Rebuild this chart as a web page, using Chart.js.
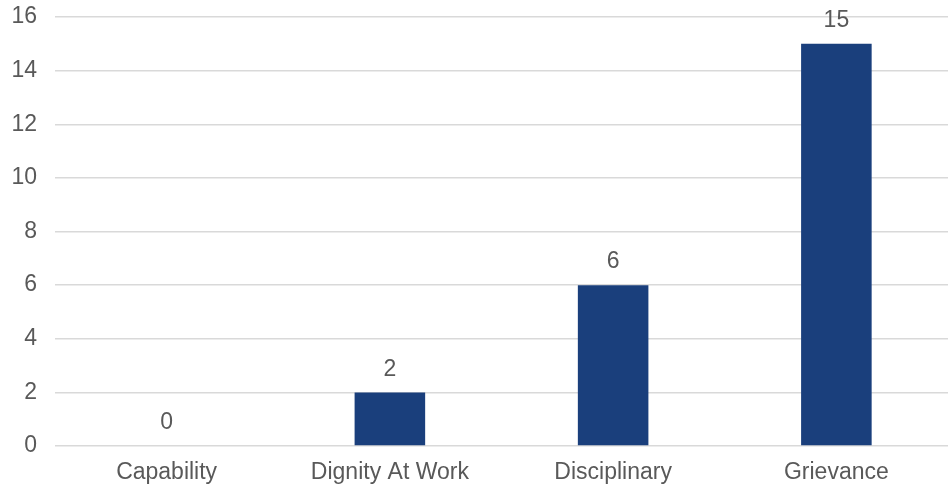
<!DOCTYPE html>
<html>
<head>
<meta charset="utf-8">
<script src="https://cdn.jsdelivr.net/npm/chart.js@4.4.1/dist/chart.umd.min.js"></script>
<style>
  html, body { margin: 0; padding: 0; background: #ffffff; overflow: hidden; }
  #wrap { width: 948px; height: 489px; position: relative; }
</style>
</head>
<body>
<div id="wrap"><canvas id="c"></canvas></div>
<script>
const categories = ['Capability', 'Dignity At Work', 'Disciplinary', 'Grievance'];
const caseCounts = [0, 2, 6, 15];
const yMin = 0, yMax = 16, yStep = 2;

const textColor = '#595959';
const barColor = '#1a3f7c';
const gridColor = '#d9d9d9';
const fontFamily = '"Liberation Sans", Arial, sans-serif';
const fontSize = 23;

// Writes each bar's value just above its top edge
const valueLabels = {
  id: 'valueLabels',
  afterDatasetsDraw(chart) {
    const ctx = chart.ctx;
    const meta = chart.getDatasetMeta(0);
    ctx.save();
    ctx.font = fontSize + 'px ' + fontFamily;
    ctx.fillStyle = textColor;
    ctx.textAlign = 'center';
    ctx.textBaseline = 'middle';
    meta.data.forEach((bar, i) => {
      ctx.fillText(String(caseCounts[i]), bar.x, bar.y - 23);
    });
    ctx.restore();
  }
};

new Chart(document.getElementById('c'), {
  type: 'bar',
  data: {
    labels: categories,
    datasets: [{
      data: caseCounts,
      backgroundColor: barColor,
      borderWidth: 0,
      barPercentage: 0.316,
      categoryPercentage: 1
    }]
  },
  options: {
    responsive: true,
    maintainAspectRatio: false,
    animation: false,
    layout: { padding: { top: 17, right: -2, bottom: 0, left: 0 } },
    plugins: { legend: { display: false }, tooltip: { enabled: false } },
    scales: {
      x: {
        grid: { display: false, drawTicks: false },
        border: { display: false },
        ticks: {
          color: textColor,
          font: { family: fontFamily, size: fontSize },
          padding: 13,
          maxRotation: 0
        },
        afterFit(scale) { scale.height = 43; scale.paddingLeft = 0; scale.paddingRight = 0; }
      },
      y: {
        min: yMin, max: yMax,
        grid: { color: gridColor, lineWidth: 1.5, drawTicks: false },
        border: { display: false },
        ticks: {
          stepSize: yStep,
          color: textColor,
          font: { family: fontFamily, size: fontSize },
          padding: 18
        },
        afterFit(scale) { scale.width = 55; scale.paddingTop = 0; scale.paddingBottom = 0; }
      }
    }
  },
  plugins: [valueLabels]
});
</script>
</body>
</html>
